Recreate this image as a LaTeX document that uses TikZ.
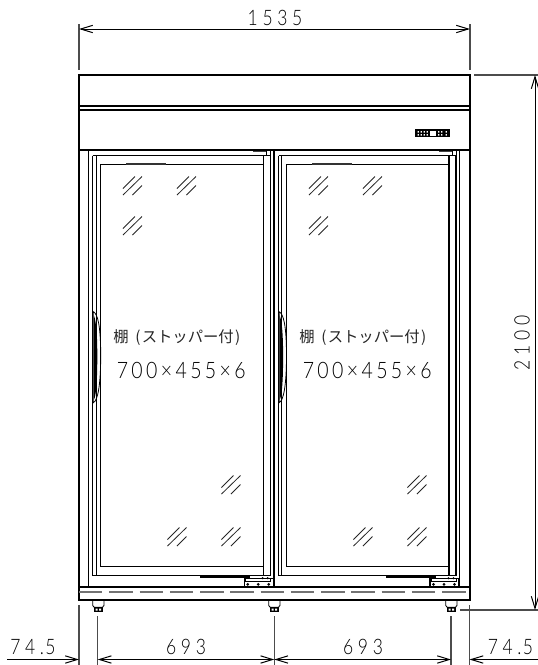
\documentclass[tikz,border=0pt]{standalone}
\usepackage{fontspec}
\usetikzlibrary{arrows.meta}
\newfontfamily\dimfont[LetterSpace=22,FakeStretch=0.82]{Lato Light}
\newfontfamily\shelfdim[LetterSpace=15,FakeStretch=0.86]{Lato Light}
\newfontfamily\cjk{Noto Sans CJK JP}
\tikzset{
  heavy/.style={line width=1.5pt,black},
  medium/.style={line width=1.05pt,black},
  thin/.style={line width=0.6pt,black},
  ext/.style={line width=0.8pt,black!70},
  dim/.style={line width=0.75pt,black,{Straight Barb[length=9pt,width=5.5pt]}-{Straight Barb[length=9pt,width=5.5pt]}},
  dimr/.style={line width=0.75pt,black,-{Straight Barb[length=9pt,width=5.5pt]}},
  diml/.style={line width=0.75pt,black,{Straight Barb[length=9pt,width=5.5pt]}-},
  dimtext/.style={inner sep=0pt,font=\dimfont\fontsize{16}{16}\selectfont,text=black},
  shelftext/.style={inner sep=0pt,anchor=west,font=\shelfdim\fontsize{17}{17}\selectfont,text=black},
  cjktext/.style={inner sep=0pt,anchor=west,font=\cjk\fontsize{11.5}{12}\selectfont,text=black!85},
  glass/.pic={
    \draw[line width=0.6pt,black!85] (0,12.5)--(12,0.5) (0,19)--(19,0.5) (9.5,19)--(19,9.5);
  },
  door/.pic={
    % local origin: outer left / top of door
    \draw[medium] (0,0)--(177.5,0) (0,420)--(177.5,420);
    \draw[medium] (8,8.5)--(170.5,8.5) (8,411)--(170.5,411);
    \draw[medium] (0,0)--(0,420) (8,8.5)--(8,411);
    \draw[line width=0.7pt,black] (3.3,0)--(3.3,420);
    \draw[medium] (170.5,0)--(170.5,420) (177.5,0)--(177.5,420);
    \draw[line width=1.6pt,black!80] (33.5,8.5)--(73.5,8.5);
    % handle
    \draw[line width=0.6pt,black] (0.6,156) .. controls (5,158) and (8,170) .. (8,200) .. controls (8,230) and (5,245) .. (0.6,247) -- cycle;
    \fill[black] (1.2,160) .. controls (3.5,165) and (4.6,180) .. (4.6,200) .. controls (4.6,225) and (3.5,240) .. (1.2,244) -- cycle;
    % bottom bar
    \draw[line width=1.1pt,black] (107.5,421.5)--(157.5,421.5);
    % hinge
    \draw[line width=0.8pt,black,fill=white] (151.5,422.5) rectangle (180.5,431);
    \draw[line width=0.8pt,black] (153,422.5)--(153,425.5)--(178,425.5)--(178,422.5);
    \fill[black] (155,428.7) circle (1.5) (165.5,428.7) circle (1.5) (176,428.7) circle (1.5) (170,422.5) circle (1.2) (175,422.5) circle (1.2);
    % top small post
    \draw[line width=0.8pt,black!75] (160.5,-4.2)--(174,-4.2);
    \draw[line width=0.6pt,black] (174,-5.7)--(174,0) (177.5,-5.7)--(177.5,0);
  },
  foot/.pic={
    \fill[white] (0,0) rectangle (11.3,6);
    \draw[line width=0.65pt,black] (0,0)--(0,5)--(1.5,6.7)--(9.8,6.7)--(11.3,5)--(11.3,0);
    \fill[black] (1.3,6.7) rectangle (10,11);
    \fill[white] (2.8,8) rectangle (4.8,10) (6.5,8) rectangle (8.5,10);
  }
}
\begin{document}
\begin{tikzpicture}[x=0.75pt,y=-0.75pt]
\useasboundingbox (0,0) rectangle (538,665);
\fill[white] (0,0) rectangle (538,665);

% doors
\pic at (92.7,155.7) {door};
\pic at (278.5,155.7) {door};

% cabinet
\draw[heavy] (79,75) rectangle (470,600);
\draw[heavy] (79,105.7)--(470,105.7);
\draw[medium] (79,110)--(470,110);
\draw[heavy] (79,150)--(470,150);
\draw[medium] (88.5,150)--(88.5,586.7);
\draw[heavy] (273.7,150)--(273.7,586.7);
\draw[line width=1.3pt,black] (459.5,150)--(459.5,586.7);
\draw[heavy] (79,586.7)--(470,586.7);
\draw[line width=1.3pt,black!55,dash pattern=on 17.6pt off 5.1pt] (79,591.7)--(470,591.7);

% feet
\pic at (92.7,600.5) {foot};
\pic at (268.7,600.5) {foot};
\pic at (445.7,600.5) {foot};

% display
\fill[black] (415,129.3) rectangle (450,137.3);
\fill[white] (430,131) rectangle (436,135.5);
\foreach \xx in {417.5,420.5,423.5,426.5,438,441,445.5}{\fill[white] (\xx,131) rectangle ++(1.3,1.5) (\xx,134) rectangle ++(1.3,1.5);}

% glass marks
\foreach \gx/\gy in {123/176,177/176,123/216,221.5/475,167.5/527,221.5/527,309/176,363/176,309/216,407.5/475,353.5/527,407.5/527}{
  \pic at (\gx,\gy) {glass};
}

% extension lines
\coordinate (ta) at (79,24);
\coordinate (tb) at (79,70);
\coordinate (tc) at (470,24);
\coordinate (td) at (470,70);
\draw[ext] (ta)--(tb) (tc)--(td);
\draw[ext] (474,75)--(538,75);
\draw[ext] (460,610)--(538,610);
\draw[ext] (79,605)--(79,665) (469.5,605)--(469.5,665);
\draw[ext] (97.7,616)--(97.7,665) (274.3,616)--(274.3,665) (451,616)--(451,665);

% dimensions
\draw[dim] (79,29)--(470,29);
\draw[dim] (535,75)--(535,610);
\draw[dimr] (7,659.5)--(79,659.5);
\draw[dim] (97.7,659.5)--(274.3,659.5);
\draw[dim] (274.3,659.5)--(451,659.5);
\draw[diml] (469.5,659.5)--(538,659.5);

% texts
\node[dimtext] (w) at (275,17.5) {1535};
\node[dimtext,rotate=90] (h) at (522,343) {2100};
\node[dimtext,anchor=west] (la) at (10,647) {74.\hspace{1pt}5};
\node[dimtext] (da) at (186,647) {693};
\node[dimtext] (db) at (363,647) {693};
\node[dimtext,anchor=west] (lb) at (487.5,647) {74.\hspace{1pt}5};

\node[cjktext] (ca) at (113,337.5) {棚\hspace{5pt}(\hspace{1pt}ストッパー付\hspace{1pt})};
\node[cjktext] (cb) at (299,337.5) {棚\hspace{5pt}(\hspace{1pt}ストッパー付\hspace{1pt})};
\node[shelftext] (sa) at (116.5,370) {700×455×6};
\node[shelftext] (sb) at (302.5,370) {700×455×6};
\end{tikzpicture}
\end{document}
